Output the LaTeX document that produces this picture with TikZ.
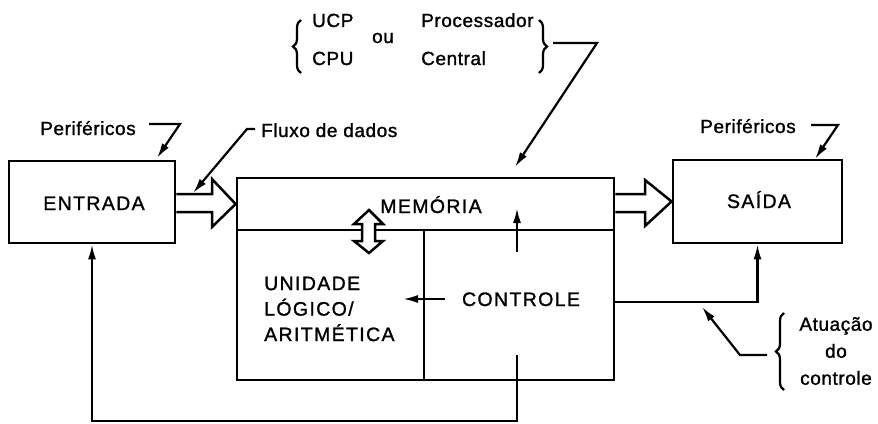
\documentclass[tikz,border=0pt]{standalone}
\usepackage{fontspec}
\setmainfont{Liberation Sans}
\newfontfamily\capsfont{Liberation Sans}[LetterSpace=7,FakeBold=1.3]
\newfontfamily\lowfont{Liberation Sans}[LetterSpace=3,FakeBold=1.3]
\usetikzlibrary{arrows.meta,decorations.pathreplacing}
\begin{document}
\begin{tikzpicture}[x=1pt,y=-1pt,
  blk/.style={draw,line width=2.8pt,inner sep=0pt,minimum width=#1},
  captxt/.style={font=\capsfont\fontsize{19.5}{25.5}\selectfont,inner sep=0pt},
  lowtxt/.style={font=\lowfont\fontsize{19}{22}\selectfont,inner sep=0pt},
  lead/.style={line width=2.2pt,-{Latex[length=15pt,width=8pt]}},
  thinline/.style={line width=2.2pt},
  hollow/.style={draw,line width=2.5pt,fill=white,line join=miter},
  brc/.style={thinline,decorate,decoration={brace,amplitude=8pt}}]
\useasboundingbox (0,0) rectangle (878,423);
% boxes
\node[blk=166pt,minimum height=82pt] (ent) at (92,202) {};
\node[blk=169pt,minimum height=83pt] (sai) at (757.5,201.5) {};
\node[blk=377pt,minimum height=52pt] (mem) at (425.5,204) {};
\node[blk=187pt,minimum height=150pt] (alu) at (330.5,305) {};
\node[blk=190pt,minimum height=150pt] (ctl) at (519,305) {};
% texts in boxes
\node[captxt,anchor=base] (tent) at (94,210) {ENTRADA};
\node[captxt,anchor=base] (tsai) at (759,208) {SAÍDA};
\node[captxt,anchor=base] (tmem) at (431,213) {MEMÓRIA};
\node[captxt,anchor=base] (tctl) at (521,306) {CONTROLE};
\node[captxt,anchor=west,align=left] (talu) at (264,309) {UNIDADE\\LÓGICO/\\ARITMÉTICA};
% hollow arrows
\path[hollow] (ent.east |- 0,194) -- (212,194) -- (212,179) -- (mem.west) -- (212,227) -- (212,212) -- (ent.east |- 0,212);
\path[hollow] (mem.east |- 0,194) -- (645,194) -- (645,180) -- (sai.west) -- (645,226) -- (645,212) -- (mem.east |- 0,212);
\path[hollow] (369,210) -- (383,224) -- (375,224) -- (375,241) -- (383,241) -- (369,253) -- (354,241) -- (362,241) -- (362,224) -- (354,224) -- cycle;
% internal arrows
\coordinate (c1) at (445,299);
\coordinate (c2) at (403,299);
\draw[lead] (c1) -- (c2);
\coordinate (c3) at (517,252);
\coordinate (c4) at (517,208);
\draw[lead] (c3) -- (c4);
% feedback loop
\coordinate (l1) at (517,355);
\coordinate (l2) at (517,421);
\draw[lead] (l1) -- (l2) -| (ent.south);
% control to output
\coordinate (o1) at (614,302);
\draw[lead] (o1) -| (sai.south);
% Periféricos left
\node[lowtxt,anchor=base] (pl) at (88,135) {Periféricos};
\coordinate (pl1) at (149,124);
\coordinate (pl2) at (180,124);
\coordinate (pl3) at (157,158);
\draw[lead] (pl1) -- (pl2) -- (pl3);
% Fluxo de dados
\node[lowtxt,anchor=base west] (fx) at (261,137) {Fluxo de dados};
\coordinate (f1) at (255,129);
\coordinate (f2) at (247,129);
\coordinate (f3) at (193,193);
\draw[lead] (f1) -- (f2) -- (f3);
% Periféricos right
\node[lowtxt,anchor=base] (pr) at (748,133) {Periféricos};
\coordinate (pr1) at (811,125);
\coordinate (pr2) at (838,125);
\coordinate (pr3) at (815,159);
\draw[lead] (pr1) -- (pr2) -- (pr3);
% top CPU labels
\node[lowtxt,anchor=base west] (ucp) at (312,27) {UCP};
\node[lowtxt,anchor=base west] (cpu) at (312,65) {CPU};
\node[lowtxt,anchor=base] (ou) at (383,43) {ou};
\node[lowtxt,anchor=base west] (proc) at (421,27) {Processador};
\node[lowtxt,anchor=base west] (cent) at (421,65) {Central};
\coordinate (bl1) at (301,73);
\coordinate (bl2) at (301,20);
\draw[brc] (bl1) -- (bl2);
\coordinate (br1) at (539,20);
\coordinate (br2) at (539,73);
\draw[brc] (br1) -- (br2);
\coordinate (t1) at (553,43);
\coordinate (t2) at (597,43);
\coordinate (t3) at (515,167);
\draw[lead] (t1) -- (t2) -- (t3);
% Atuação do controle
\node[lowtxt,align=center,font=\lowfont\fontsize{19}{27}\selectfont] (atu) at (836,351) {Atuação\\do\\controle};
\coordinate (ab1) at (784,390);
\coordinate (ab2) at (784,313);
\draw[brc] (ab1) -- (ab2);
\coordinate (a1) at (767,355);
\coordinate (a2) at (740,355);
\coordinate (a3) at (702,307);
\draw[lead] (a1) -- (a2) -- (a3);
\end{tikzpicture}
\end{document}
